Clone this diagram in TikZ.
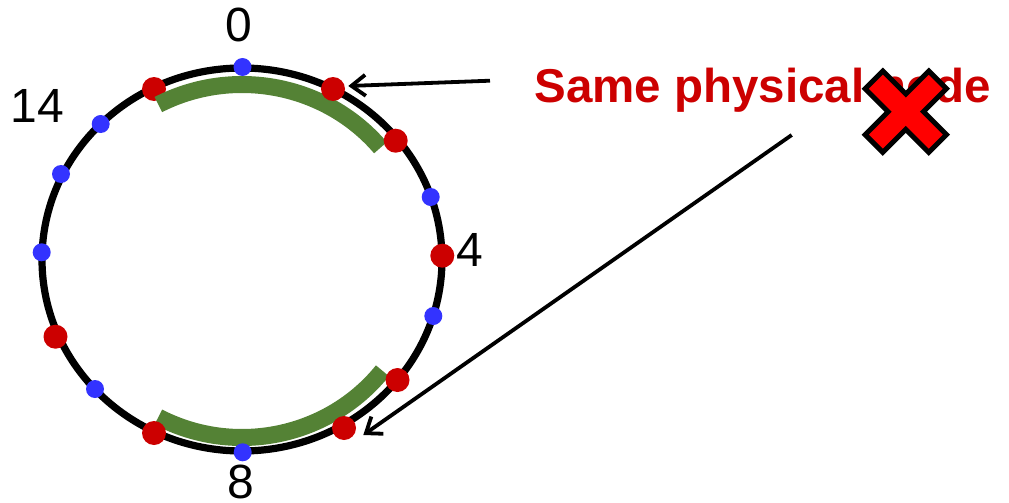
\documentclass[tikz,border=0pt]{standalone}
\usepackage{fontspec}
\setmainfont{Liberation Sans}
\usetikzlibrary{arrows.meta,calc}
\definecolor{dotred}{HTML}{CC0000}
\definecolor{dotblue}{HTML}{3333FF}
\definecolor{arcgreen}{HTML}{548235}
\definecolor{xred}{HTML}{FF0000}
\begin{document}
\begin{tikzpicture}[x=1pt,y=-1pt,
  reddot/.style={circle,fill=dotred,inner sep=0pt,minimum size=24pt},
  bluedot/.style={circle,fill=dotblue,inner sep=0pt,minimum size=18pt},
  ring/.style={line width=7.2pt,black},
  band/.style={line width=17pt,arcgreen},
  num/.style={font=\fontsize{48}{58}\selectfont,inner sep=0pt},
  pointer/.style={line width=3.8pt,-{Straight Barb[length=14pt,width=21pt]}},
  crossmark/.style={fill=xred,draw=black,line width=5pt,miter limit=10}]
\useasboundingbox (0,0) rectangle (1009,503);
\coordinate (c) at (242,259.5);
% ring
\draw[ring] (c) ellipse [x radius=200, y radius=191.5];
% dot under the band
\node[reddot] (r15) at (154,89) {};
% green bands
\draw[band] ($(c)+(-117.7:180 and 175)$) arc[start angle=-117.7, end angle=-39.7, x radius=180, y radius=175];
\draw[band] ($(c)+(117.7:180 and 178)$) arc[start angle=117.7, end angle=38.7, x radius=180, y radius=178];
% dots
\node[bluedot] (b0) at (242.5,67) {};
\node[reddot] (r1) at (333,89) {};
\node[reddot] (r2) at (395.7,140.7) {};
\node[bluedot] (b3) at (430.7,197) {};
\node[reddot] (r4) at (442.3,255.7) {};
\node[bluedot] (b5) at (433.3,316) {};
\node[reddot] (r6) at (397.5,380) {};
\node[reddot] (r7) at (344,428) {};
\node[bluedot] (b8) at (242.7,452.3) {};
\node[reddot] (r9) at (154,433) {};
\node[bluedot] (b10) at (95,389) {};
\node[reddot] (r11) at (55.5,336.7) {};
\node[bluedot] (b12) at (41.7,252.3) {};
\node[bluedot] (b13) at (61,174) {};
\node[bluedot] (b14) at (100.7,124) {};
% labels
\node[num] (l0) at (239,25) {0};
\node[num] (l14) at (37.5,105.5) {14};
\node[num] (l4) at (470,249.5) {4};
\node[num] (l8) at (240.5,481.5) {8};
% caption
\node[anchor=base west,inner sep=0pt,text=dotred,font=\fontsize{47.5}{57}\selectfont\bfseries] (cap) at (534.4,102.3) {Same physical node};
% cross
\begin{scope}[shift={(905.8,111.7)},rotate=45]
\path[crossmark] (12.5,12.5) -- (45,12.5) -- (45,-12.5) -- (12.5,-12.5) -- (12.5,-45) -- (-12.5,-45) -- (-12.5,-12.5) -- (-45,-12.5) -- (-45,12.5) -- (-12.5,12.5) -- (-12.5,45) -- (12.5,45) -- cycle;
\end{scope}
% arrows
\coordinate (a1s) at (490,80.7);
\coordinate (a1e) at (348.3,86);
\coordinate (a2s) at (791.7,135);
\coordinate (a2e) at (363.3,435);
\draw[pointer] (a1s) -- (a1e);
\draw[pointer] (a2s) -- (a2e);
\end{tikzpicture}
\end{document}
